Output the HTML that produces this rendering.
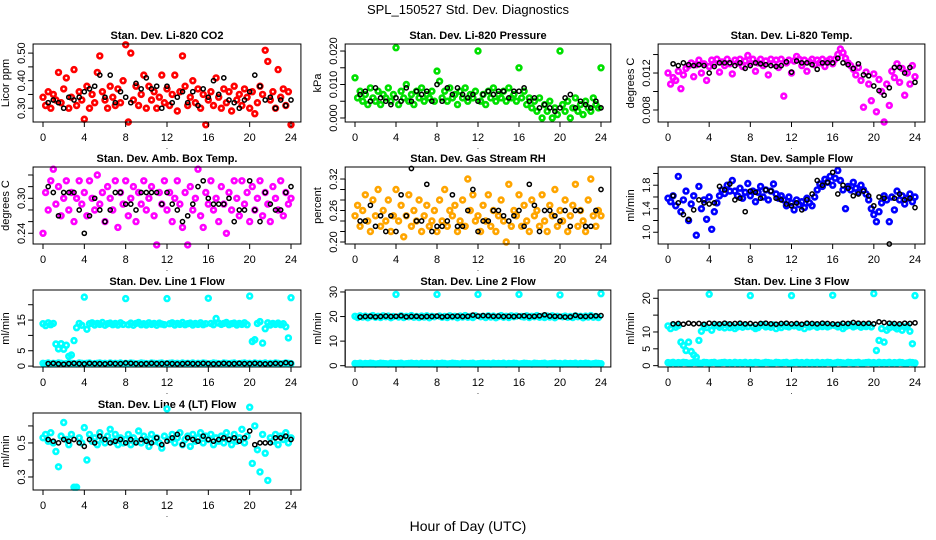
<!DOCTYPE html>
<html><head><meta charset="utf-8"><style>
html,body{margin:0;padding:0;background:#fff;}
svg{display:block;font-family:"Liberation Sans",sans-serif;}
</style></head><body>
<svg id="fig" width="936" height="540" viewBox="0 0 936 540">
<text x="468" y="14" text-anchor="middle" font-size="13">SPL_150527  Std. Dev. Diagnostics</text>
<text x="468" y="531" text-anchor="middle" font-size="14">Hour of Day (UTC)</text>
</svg>
<script>
// ---- data arrays (colored series at t=0..24 step 0.25; black series at t=0.5..24 step 0.5) ----
const xTicks=[0,4,8,12,16,20,24];
const co2Col=[0.34,0.31,0.36,0.30,0.35,0.33,0.43,0.32,0.37,0.41,0.30,0.34,0.44,0.31,0.36,0.33,0.26,0.38,0.30,0.35,0.32,0.43,0.49,0.36,0.33,0.30,0.38,0.34,0.31,0.37,0.32,0.40,0.53,0.25,0.50,0.33,0.38,0.31,0.35,0.42,0.30,0.38,0.33,0.36,0.30,0.34,0.42,0.32,0.37,0.31,0.35,0.42,0.29,0.36,0.49,0.38,0.31,0.34,0.40,0.32,0.37,0.30,0.35,0.24,0.33,0.36,0.31,0.41,0.34,0.30,0.37,0.32,0.36,0.29,0.38,0.33,0.35,0.31,0.37,0.34,0.30,0.36,0.28,0.32,0.38,0.35,0.51,0.47,0.33,0.36,0.30,0.44,0.34,0.37,0.31,0.36,0.24];
const co2Blk=[0.32,0.33,0.32,0.30,0.34,0.33,0.34,0.36,0.37,0.38,0.42,0.34,0.42,0.32,0.36,0.34,0.32,0.39,0.37,0.41,0.37,0.38,0.30,0.38,0.32,0.34,0.36,0.32,0.36,0.31,0.37,0.34,0.40,0.35,0.41,0.33,0.32,0.30,0.33,0.36,0.42,0.38,0.33,0.34,0.30,0.33,0.31,0.33];
const presCol=[0.012,0.006,0.008,0.005,0.007,0.004,0.009,0.006,0.005,0.008,0.004,0.007,0.006,0.009,0.005,0.007,0.021,0.004,0.008,0.006,0.010,0.005,0.007,0.004,0.008,0.006,0.009,0.005,0.007,0.006,0.008,0.005,0.014,0.011,0.006,0.008,0.005,0.009,0.006,0.007,0.004,0.008,0.006,0.009,0.005,0.007,0.006,0.008,0.020,0.005,0.007,0.004,0.008,0.006,0.009,0.005,0.007,0.006,0.008,0.005,0.009,0.006,0.007,0.005,0.015,0.006,0.008,0.004,0.006,0.003,0.005,0.002,0.006,0.000,0.004,0.002,0.005,0.000,0.003,0.001,0.020,0.004,0.002,0.005,0.000,0.003,0.006,0.002,0.004,0.001,0.005,0.003,0.002,0.006,0.004,0.003,0.015];
const presBlk=[0.007,0.008,0.005,0.009,0.006,0.005,0.004,0.006,0.005,0.009,0.005,0.008,0.007,0.008,0.005,0.010,0.005,0.009,0.007,0.009,0.007,0.006,0.007,0.005,0.007,0.008,0.007,0.008,0.008,0.006,0.008,0.008,0.009,0.005,0.006,0.003,0.004,0.003,0.002,0.003,0.006,0.007,0.003,0.005,0.004,0.003,0.005,0.003];
const tempCol=[0.0120,0.0108,0.0115,0.0112,0.0122,0.0103,0.0118,0.0125,0.0128,0.0131,0.0116,0.0129,0.0134,0.0120,0.0130,0.0112,0.0127,0.0134,0.0130,0.0135,0.0121,0.0132,0.0128,0.0135,0.0130,0.0119,0.0134,0.0131,0.0135,0.0127,0.0133,0.0139,0.0130,0.0135,0.0122,0.0131,0.0135,0.0128,0.0133,0.0118,0.0135,0.0130,0.0134,0.0126,0.0135,0.0095,0.0131,0.0134,0.0120,0.0133,0.0138,0.0135,0.0128,0.0134,0.0122,0.0132,0.0135,0.0129,0.0134,0.0131,0.0135,0.0127,0.0133,0.0135,0.0130,0.0135,0.0140,0.0146,0.0142,0.0136,0.0131,0.0128,0.0124,0.0118,0.0126,0.0112,0.0083,0.0121,0.0108,0.0090,0.0119,0.0078,0.0113,0.0100,0.0067,0.0108,0.0085,0.0122,0.0115,0.0130,0.0110,0.0125,0.0096,0.0120,0.0108,0.0128,0.0116];
const tempBlk=[0.0130,0.0128,0.0131,0.0129,0.0128,0.0129,0.0128,0.0120,0.0127,0.0131,0.0131,0.0131,0.0128,0.0131,0.0125,0.0128,0.0131,0.0130,0.0129,0.0128,0.0127,0.0128,0.0132,0.0121,0.0133,0.0131,0.0131,0.0129,0.0124,0.0131,0.0131,0.0131,0.0136,0.0131,0.0129,0.0125,0.0130,0.0118,0.0117,0.0106,0.0101,0.0096,0.0104,0.0126,0.0126,0.0120,0.0126,0.0110];
const ambCol=[0.24,0.31,0.28,0.33,0.35,0.29,0.32,0.27,0.30,0.33,0.28,0.31,0.26,0.30,0.33,0.29,0.31,0.27,0.33,0.30,0.28,0.34,0.29,0.31,0.26,0.32,0.30,0.28,0.33,0.25,0.31,0.29,0.33,0.27,0.30,0.32,0.26,0.31,0.29,0.33,0.28,0.30,0.32,0.27,0.22,0.31,0.29,0.33,0.28,0.31,0.26,0.30,0.33,0.29,0.25,0.31,0.22,0.32,0.28,0.30,0.35,0.27,0.25,0.31,0.29,0.33,0.28,0.30,0.26,0.32,0.29,0.24,0.31,0.28,0.33,0.30,0.27,0.33,0.29,0.31,0.26,0.32,0.28,0.30,0.33,0.27,0.31,0.29,0.26,0.32,0.30,0.28,0.33,0.27,0.31,0.29,0.30];
const ambBlk=[0.32,0.31,0.27,0.31,0.31,0.31,0.28,0.24,0.27,0.30,0.28,0.26,0.28,0.31,0.31,0.29,0.29,0.28,0.31,0.31,0.31,0.31,0.29,0.31,0.29,0.28,0.26,0.27,0.29,0.32,0.33,0.30,0.29,0.29,0.29,0.30,0.26,0.28,0.28,0.33,0.28,0.26,0.31,0.29,0.28,0.28,0.31,0.32];
const rhCol=[0.25,0.27,0.23,0.26,0.29,0.24,0.22,0.28,0.25,0.30,0.23,0.26,0.24,0.28,0.22,0.25,0.30,0.24,0.27,0.21,0.25,0.29,0.23,0.26,0.24,0.28,0.22,0.25,0.27,0.23,0.24,0.26,0.22,0.28,0.24,0.30,0.23,0.26,0.25,0.27,0.22,0.24,0.28,0.23,0.32,0.26,0.29,0.24,0.25,0.22,0.27,0.24,0.29,0.23,0.26,0.22,0.25,0.28,0.24,0.20,0.31,0.23,0.26,0.25,0.29,0.23,0.27,0.24,0.22,0.28,0.25,0.26,0.23,0.29,0.24,0.22,0.27,0.25,0.30,0.23,0.26,0.24,0.28,0.22,0.25,0.27,0.31,0.23,0.26,0.24,0.22,0.28,0.32,0.25,0.23,0.26,0.25];
const rhBlk=[0.24,0.24,0.27,0.23,0.25,0.22,0.25,0.22,0.29,0.25,0.34,0.24,0.24,0.31,0.22,0.23,0.23,0.24,0.29,0.23,0.23,0.26,0.30,0.22,0.24,0.24,0.26,0.26,0.25,0.24,0.25,0.26,0.23,0.31,0.27,0.22,0.26,0.26,0.25,0.24,0.26,0.23,0.26,0.26,0.23,0.23,0.26,0.30];
const flowCol=[1.58,1.52,1.62,1.45,1.95,1.35,1.55,1.70,1.20,1.48,1.62,0.95,1.78,1.40,1.55,1.22,1.60,1.05,1.35,1.50,1.62,1.72,1.66,1.80,1.70,1.88,1.70,1.62,1.75,1.58,1.68,1.83,1.62,1.70,1.52,1.68,1.78,1.60,1.72,1.55,1.70,1.82,1.65,1.58,1.62,1.55,1.45,1.60,1.50,1.38,1.55,1.47,1.52,1.42,1.58,1.50,1.45,1.60,1.72,1.82,1.78,1.90,1.85,1.95,1.80,1.92,2.05,1.88,1.72,1.40,1.78,1.72,1.85,1.75,1.68,1.80,1.72,1.65,1.55,1.40,1.30,1.18,1.35,1.50,1.62,1.55,1.18,1.60,1.38,1.70,1.55,1.62,1.48,1.58,1.65,1.52,1.60];
const flowBlk=[1.62,1.50,1.30,1.22,1.38,1.55,1.50,1.48,1.50,1.78,1.72,1.82,1.55,1.58,1.35,1.70,1.68,1.58,1.72,1.70,1.58,1.55,1.48,1.45,1.50,1.38,1.55,1.65,1.88,1.80,1.85,2.02,1.65,1.80,1.75,1.62,1.65,1.70,1.62,1.45,1.60,1.58,0.80,1.58,1.65,1.55,1.58,1.42];
const l1Col=[13.8,13.2,14.1,13.5,13.9,7.2,5.6,7.3,5.5,6.8,3.2,3.6,8.3,12.5,13.9,13.3,22.5,12.0,13.8,14.1,13.4,13.9,13.6,14.2,13.3,13.8,14.0,13.5,13.9,13.4,14.1,13.6,22.0,13.5,14.0,13.3,13.9,14.2,13.5,13.8,13.4,14.1,13.6,13.9,13.3,14.0,13.7,13.5,22.0,13.8,14.1,13.4,13.9,13.6,14.2,13.5,13.8,14.0,13.4,13.9,13.6,14.1,13.5,13.8,22.1,13.9,13.5,15.5,14.0,13.6,13.9,14.2,13.5,13.8,14.0,13.4,13.9,13.6,14.1,13.5,22.8,8.0,8.6,13.9,14.5,7.5,12.2,14.1,13.4,13.9,13.6,14.0,13.5,13.8,12.8,9.2,22.3];
const l1Low=[0.9,0.8,1.0,0.7,0.9,0.8,1.0,0.9,0.7,0.8,1.0,0.9,0.8,0.7,1.0,0.9,0.8,0.9,1.0,0.7,0.8,0.9,1.0,0.8,0.9,0.7,1.0,0.8,0.9,0.8,1.0,0.7,0.9,0.8,1.0,0.9,0.7,0.8,1.0,0.9,0.8,0.7,1.0,0.9,0.8,0.9,1.0,0.7,0.8,0.9,1.0,0.8,0.9,0.7,1.0,0.8,0.9,0.8,1.0,0.7,0.9,0.8,1.0,0.9,0.7,0.8,1.0,0.9,0.8,0.7,1.0,0.9,0.8,0.9,1.0,0.7,0.8,0.9,1.0,0.8,0.9,0.7,1.0,0.8,0.9,0.8,1.0,0.7,0.9,0.8,1.0,0.9,0.7,0.8,1.0,0.9,0.8];
const l1Blk=[0.8,0.9,0.7,0.6,0.8,0.9,0.8,0.7,0.9,0.8,0.8,0.7,0.9,0.8,0.8,1.0,0.9,0.8,0.7,0.8,0.9,0.8,0.8,0.9,0.8,0.7,0.8,0.9,0.8,0.8,0.9,0.8,0.7,0.8,0.9,0.8,0.8,0.9,0.8,0.8,0.9,0.8,0.7,0.8,0.9,0.8,1.1,0.9];
const l2Col=[20.1,19.6,20.3,19.8,20.2,19.5,20.0,20.4,19.7,20.1,19.6,20.3,19.9,20.2,19.5,20.0,29.0,19.8,20.3,19.6,20.1,19.9,20.4,19.7,20.0,19.6,20.2,19.8,20.3,19.5,20.1,19.9,29.0,20.2,19.7,20.0,19.6,20.3,19.9,20.1,19.5,20.2,19.8,20.4,19.7,20.0,19.6,20.3,29.0,19.9,20.1,19.6,20.3,19.8,20.2,19.5,20.0,20.4,19.7,20.1,19.6,20.3,19.9,20.2,29.0,20.0,19.8,20.3,19.6,20.1,19.9,20.4,19.7,20.0,19.6,20.2,19.8,20.3,19.5,20.1,28.8,19.9,20.2,19.7,20.0,19.6,20.3,19.9,20.1,19.5,20.2,19.8,20.4,19.7,20.0,19.6,29.3];
const l2Low=[0.9,0.8,1.0,0.7,0.9,0.8,1.0,0.9,0.7,0.8,1.0,0.9,0.8,0.7,1.0,0.9,0.8,0.9,1.0,0.7,0.8,0.9,1.0,0.8,0.9,0.7,1.0,0.8,0.9,0.8,1.0,0.7,0.9,0.8,1.0,0.9,0.7,0.8,1.0,0.9,0.8,0.7,1.0,0.9,0.8,0.9,1.0,0.7,0.8,0.9,1.0,0.8,0.9,0.7,1.0,0.8,0.9,0.8,1.0,0.7,0.9,0.8,1.0,0.9,0.7,0.8,1.0,0.9,0.8,0.7,1.0,0.9,0.8,0.9,1.0,0.7,0.8,0.9,1.0,0.8,0.9,0.7,1.0,0.8,0.9,0.8,1.0,0.7,0.9,0.8,1.0,0.9,0.7,0.8,1.0,0.9,0.8];
const l2Blk=[19.8,20.0,20.1,19.9,20.0,20.2,20.0,20.1,20.3,19.9,20.0,20.1,19.9,20.0,20.0,20.2,19.9,20.1,20.0,20.2,20.0,20.1,20.6,20.2,20.4,20.3,20.1,20.2,20.0,20.1,20.0,20.2,20.3,20.0,20.1,20.3,20.7,20.2,20.1,20.0,19.8,19.9,20.5,20.1,20.0,20.2,20.3,20.4];
const l3Col=[11.8,11.0,12.1,11.4,11.9,7.0,6.0,4.5,7.0,4.2,3.2,2.5,7.5,10.2,11.8,11.3,21.2,10.5,11.8,12.0,11.4,11.9,11.2,12.1,11.3,11.8,11.0,11.5,11.9,11.4,12.1,11.6,20.8,11.5,11.0,11.3,11.9,12.2,11.5,11.8,11.4,12.1,11.0,11.9,11.3,12.0,11.7,11.5,20.8,11.8,12.1,11.4,11.9,11.0,12.2,11.5,11.8,12.0,11.4,11.9,11.6,12.1,11.5,11.8,20.9,11.9,11.5,12.0,11.0,11.6,11.9,12.2,11.5,11.8,12.0,11.4,11.9,11.6,12.1,11.5,21.4,4.5,7.5,11.0,7.0,10.5,11.2,12.1,11.4,10.9,11.6,10.5,11.5,11.8,10.2,6.5,20.8];
const l3Low=[0.9,0.8,1.0,0.7,0.9,0.8,1.0,0.9,0.7,0.8,1.0,0.9,0.8,0.7,1.0,0.9,0.8,0.9,1.0,0.7,0.8,0.9,1.0,0.8,0.9,0.7,1.0,0.8,0.9,0.8,1.0,0.7,0.9,0.8,1.0,0.9,0.7,0.8,1.0,0.9,0.8,0.7,1.0,0.9,0.8,0.9,1.0,0.7,0.8,0.9,1.0,0.8,0.9,0.7,1.0,0.8,0.9,0.8,1.0,0.7,0.9,0.8,1.0,0.9,0.7,0.8,1.0,0.9,0.8,0.7,1.0,0.9,0.8,0.9,1.0,0.7,0.8,0.9,1.0,0.8,0.9,0.7,1.0,0.8,0.9,0.8,1.0,0.7,0.9,0.8,1.0,0.9,0.7,0.8,1.0,0.9,0.8];
const l3Blk=[12.4,12.5,12.3,12.6,12.4,12.5,12.3,12.6,12.5,12.4,12.6,12.4,12.5,12.6,12.4,12.5,12.3,12.5,12.6,12.4,12.3,12.5,12.6,12.4,12.5,12.3,12.6,12.5,12.4,12.6,12.5,12.4,12.3,12.6,12.5,12.8,12.6,12.5,12.6,12.4,13.0,12.8,12.6,12.5,12.4,12.6,12.5,12.7];
const l4Col=[0.53,0.55,0.51,0.56,0.50,0.45,0.36,0.54,0.62,0.52,0.49,0.55,0.24,0.24,0.53,0.50,0.59,0.40,0.55,0.51,0.53,0.49,0.56,0.52,0.50,0.54,0.58,0.51,0.55,0.49,0.53,0.50,0.52,0.55,0.49,0.53,0.51,0.57,0.50,0.54,0.52,0.48,0.55,0.51,0.53,0.50,0.47,0.54,0.70,0.52,0.55,0.50,0.53,0.56,0.49,0.52,0.54,0.48,0.55,0.51,0.53,0.56,0.50,0.54,0.52,0.55,0.49,0.53,0.51,0.54,0.50,0.56,0.52,0.49,0.55,0.51,0.53,0.58,0.50,0.54,0.71,0.38,0.60,0.46,0.33,0.55,0.44,0.28,0.53,0.51,0.55,0.49,0.54,0.52,0.56,0.50,0.53];
const l4Blk=[0.52,0.51,0.50,0.52,0.51,0.52,0.50,0.48,0.52,0.50,0.54,0.52,0.50,0.51,0.52,0.50,0.52,0.50,0.52,0.51,0.50,0.53,0.49,0.51,0.53,0.55,0.49,0.53,0.52,0.51,0.54,0.52,0.51,0.52,0.53,0.52,0.53,0.51,0.53,0.57,0.49,0.50,0.50,0.50,0.53,0.53,0.54,0.52];

const NS="http://www.w3.org/2000/svg";
const svg=document.getElementById('fig');
function el(tag,attrs,parent){const e=document.createElementNS(NS,tag);for(const k in attrs)e.setAttribute(k,attrs[k]);(parent||svg).appendChild(e);return e;}

const cols=[{x0:43,x24:291},{x0:355,x24:601},{x0:668,x24:915}];
const rows=[{top:44,bot:122},{top:167,bot:244},{top:290,bot:367},{top:413,bot:490}];

const panels=[
 {key:'co2',title:'Stan. Dev. Li-820 CO2',ylab:'Licor ppm',r:0,c:0,lo:0.25,hi:0.533,ticks:[0.30,0.35,0.40,0.45,0.50],labels:['0.30','','0.40','','0.50'],series:[[co2Col,'#ff0000',0],[co2Blk,'#000',1]]},
 {key:'pressure',title:'Stan. Dev. Li-820 Pressure',ylab:'kPa',r:0,c:1,lo:-0.0012,hi:0.0221,ticks:[0,0.005,0.010,0.015,0.020],labels:['0.000','','0.010','','0.020'],series:[[presCol,'#00e000',0],[presBlk,'#000',1]]},
 {key:'temp',title:'Stan. Dev. Li-820 Temp.',ylab:'degrees C',r:0,c:2,lo:0.0067,hi:0.01514,ticks:[0.008,0.010,0.012,0.014],labels:['0.008','','0.012',''],series:[[tempCol,'#ff00ff',0],[tempBlk,'#000',1]]},
 {key:'ambtemp',title:'Stan. Dev. Amb. Box Temp.',ylab:'degrees C',r:1,c:0,lo:0.2216,hi:0.3537,ticks:[0.24,0.26,0.28,0.30,0.32,0.34],labels:['0.24','','','0.30','',''],series:[[ambCol,'#ff00ff',0],[ambBlk,'#000',1]]},
 {key:'rh',title:'Stan. Dev. Gas Stream RH',ylab:'percent',r:1,c:1,lo:0.1962,hi:0.3429,ticks:[0.20,0.22,0.24,0.26,0.28,0.30,0.32],labels:['0.20','','','0.26','','','0.32'],series:[[rhCol,'#ffa500',0],[rhBlk,'#000',1]]},
 {key:'sampleflow',title:'Stan. Dev. Sample Flow',ylab:'ml/min',r:1,c:2,lo:0.80,hi:2.11,ticks:[1.0,1.2,1.4,1.6,1.8,2.0],labels:['1.0','','1.4','','1.8',''],series:[[flowCol,'#0000ff',0],[flowBlk,'#000',1]]},
 {key:'line1',title:'Stan. Dev. Line 1 Flow',ylab:'ml/min',r:2,c:0,lo:-0.3,hi:24.8,ticks:[0,5,10,15,20],labels:['0','5','','15',''],series:[[l1Col,'#00ffff',0],[l1Low,'#00ffff',0],[l1Blk,'#000',1]]},
 {key:'line2',title:'Stan. Dev. Line 2 Flow',ylab:'ml/min',r:2,c:1,lo:-0.53,hi:30.8,ticks:[0,10,20,30],labels:['0','10','20','30'],series:[[l2Col,'#00ffff',0],[l2Low,'#00ffff',0],[l2Blk,'#000',1]]},
 {key:'line3',title:'Stan. Dev. Line 3 Flow',ylab:'ml/min',r:2,c:2,lo:-0.4,hi:22.46,ticks:[0,5,10,15,20],labels:['0','5','10','','20'],series:[[l3Col,'#00ffff',0],[l3Low,'#00ffff',0],[l3Blk,'#000',1]]},
 {key:'line4',title:'Stan. Dev. Line 4 (LT) Flow',ylab:'ml/min',r:3,c:0,lo:0.2235,hi:0.676,ticks:[0.3,0.4,0.5,0.6],labels:['0.3','','0.5',''],series:[[l4Col,'#00ffff',0],[l4Blk,'#000',1]]}
];

panels.forEach(p=>{
  const col=cols[p.c], row=rows[p.r];
  const sx=t=>col.x0+(col.x24-col.x0)*t/24;
  const sy=v=>row.bot-(v-p.lo)/(p.hi-p.lo)*(row.bot-row.top);
  const L=sx(-0.96), R=sx(24.96);
  const g=el('g',{});
  
  
  const tt=el('text',{x:(L+R)/2,y:row.top-5,'text-anchor':'middle','font-size':'11','font-weight':'bold'},g);
  tt.textContent=p.title;
  
  
  p.series.forEach((s,si)=>{
    const vals=s[0], black=s[1]==='#000';
    const sg=el('g',{fill:'none',stroke:s[1],'stroke-width':black?1.5:2.6},g);
    
    
    vals.forEach((v,i)=>{
      const t=black?0.5+i*0.5:i*0.25;
      const c=el('circle',{cx:sx(t).toFixed(1),cy:sy(v).toFixed(1),r:black?2.1:2.4},sg);
      
      
    });
  });
  const box=el('rect',{x:L,y:row.top,width:R-L,height:row.bot-row.top,fill:'none',stroke:'#000','stroke-width':1},g);
  
  
  const xa=el('g',{stroke:'#000','stroke-width':1},g);
  
  
  el('line',{x1:sx(0),x2:sx(24),y1:row.bot,y2:row.bot},xa);
  xTicks.forEach(t=>{
    el('line',{x1:sx(t),x2:sx(t),y1:row.bot,y2:row.bot+5},xa);
    const lb=el('text',{x:sx(t),y:row.bot+19,'text-anchor':'middle','font-size':'11',stroke:'none',fill:'#000'},g);
    lb.textContent=String(t);
    
    
  });
  const dot=el('text',{x:(L+R)/2,y:row.bot+27,'text-anchor':'middle','font-size':'8'},g);
  dot.textContent='.';
  
  
  const ya=el('g',{stroke:'#000','stroke-width':1},g);
  
  
  el('line',{x1:L,x2:L,y1:sy(p.ticks[0]),y2:sy(p.ticks[p.ticks.length-1])},ya);
  p.ticks.forEach((v,i)=>{
    const y=sy(v);
    el('line',{x1:L-5,x2:L,y1:y,y2:y},ya);
    if(p.labels[i]){
      const lb=el('text',{x:L-8,y:y,'text-anchor':'middle','font-size':'11',transform:'rotate(-90 '+(L-8)+' '+y+')',fill:'#000'},g);
      lb.textContent=p.labels[i];
      
      
    }
  });
  const yt=el('text',{x:L-24,y:(row.top+row.bot)/2,'text-anchor':'middle','font-size':'11',transform:'rotate(-90 '+(L-24)+' '+((row.top+row.bot)/2)+')'},g);
  yt.textContent=p.ylab;
  
  
});
</script>
</body></html>
